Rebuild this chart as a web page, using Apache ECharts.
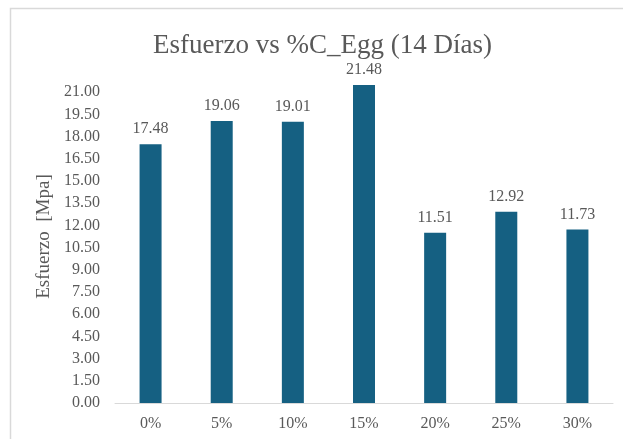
<!DOCTYPE html>
<html>
<head>
<meta charset="utf-8">
<script src="https://cdn.jsdelivr.net/npm/echarts@6/dist/echarts.min.js"></script>
<style>
  html, body { margin: 0; padding: 0; background: #fff; }
  #chart { width: 623px; height: 439px; }
</style>
</head>
<body>
<div id="chart"></div>
<script>
// Compressive strength at 14 days by eggshell content
const categories = ['0%', '5%', '10%', '15%', '20%', '25%', '30%'];
const esfuerzo = [17.48, 19.06, 19.01, 21.48, 11.51, 12.92, 11.73];
const yMin = 0;
const yMax = 22.5;
const yStep = 1.5;

const serif = '"Liberation Serif", "DejaVu Serif", serif';
const textGray = '#595959';

const chart = echarts.init(document.getElementById('chart'));
chart.setOption({
  backgroundColor: '#ffffff',
  animation: false,
  title: {
    text: 'Esfuerzo vs %C_Egg (14 Días)',
    left: 148,
    top: 27,
    textStyle: { fontFamily: serif, fontSize: 27, fontWeight: 'normal', color: textGray }
  },
  graphic: [{
    type: 'rect',
    shape: { x: 10.5, y: 8.5, width: 640, height: 460 },
    style: { fill: 'none', stroke: '#d9d9d9', lineWidth: 1.5 },
    silent: true
  }],
  grid: { left: 115, right: 10, top: 70, bottom: 36 },
  xAxis: {
    type: 'category',
    data: categories,
    axisLine: { lineStyle: { color: '#d9d9d9', width: 1 } },
    axisTick: { show: false },
    axisLabel: { fontFamily: serif, fontSize: 16, color: textGray, margin: 13 }
  },
  yAxis: {
    type: 'value',
    min: yMin,
    max: yMax,
    interval: yStep,
    name: 'Esfuerzo  [Mpa]',
    nameLocation: 'middle',
    nameGap: 54,
    nameTextStyle: { fontFamily: serif, fontSize: 19, color: textGray },
    axisLine: { show: false },
    axisTick: { show: false },
    splitLine: { show: false },
    axisLabel: {
      fontFamily: serif, fontSize: 16, color: textGray, margin: 15,
      formatter: v => (v >= yMax ? '' : v.toFixed(2))
    }
  },
  series: [{
    type: 'bar',
    data: esfuerzo,
    barWidth: 22,
    itemStyle: { color: '#156082' },
    label: {
      show: true,
      position: 'top',
      distance: 7,
      fontFamily: serif,
      fontSize: 16,
      color: textGray,
      formatter: p => p.value.toFixed(2)
    }
  }]
});
</script>
</body>
</html>
